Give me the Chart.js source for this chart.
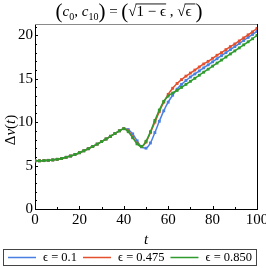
<!DOCTYPE html>
<html>
<head>
<meta charset="utf-8">
<script src="https://cdn.jsdelivr.net/npm/chart.js@4.4.0/dist/chart.umd.min.js"></script>
<style>
html, body { margin: 0; padding: 0; background: #fff; }
</style>
</head>
<body>
<canvas id="chart" width="266" height="268"></canvas>
<script>
// time samples (one marker every 2 units)
const tValues = [0, 2, 4, 6, 8, 10, 12, 14, 16, 18, 20, 22, 24, 26, 28, 30, 32, 34, 36, 38, 40,
    42, 44, 46, 48, 50, 52, 54, 56, 58, 60, 62, 64, 66, 68, 70, 72, 74, 76, 78, 80,
    82, 84, 86, 88, 90, 92, 94, 96, 98, 100];

// eps = 0.1
const blueValues = [5.55, 5.55, 5.57, 5.6, 5.65, 5.72, 5.82, 5.95, 6.1, 6.28, 6.48, 6.7, 6.94, 7.2, 7.47, 7.76, 8.06, 8.37, 8.69, 9.0, 9.25,
    9.15, 8.65, 7.85, 7.15, 7.0, 7.6, 8.8, 10.1, 11.3, 12.3, 13.1, 13.8, 14.35, 14.8, 15.2, 15.55, 15.9, 16.25, 16.6, 16.95,
    17.3, 17.65, 18.0, 18.35, 18.7, 19.05, 19.4, 19.75, 20.1, 20.45];

// eps = 0.475
const redValues = [5.55, 5.55, 5.57, 5.6, 5.65, 5.72, 5.82, 5.95, 6.1, 6.28, 6.48, 6.7, 6.94, 7.2, 7.47, 7.76, 8.06, 8.37, 8.69, 9.0, 9.25,
    9.0, 8.3, 7.55, 7.2, 7.7, 8.8, 10.0, 11.2, 12.3, 13.2, 13.9, 14.45, 14.9, 15.3, 15.65, 16.0, 16.35, 16.7, 17.0, 17.35,
    17.7, 18.0, 18.35, 18.7, 19.0, 19.35, 19.7, 20.05, 20.4, 20.8];

// eps = 0.850
const greenValues = [5.55, 5.55, 5.57, 5.6, 5.65, 5.72, 5.82, 5.95, 6.1, 6.28, 6.48, 6.7, 6.94, 7.2, 7.47, 7.76, 8.06, 8.37, 8.69, 9.0, 9.25,
    8.9, 8.2, 7.5, 7.2, 7.8, 8.9, 10.2, 11.4, 12.4, 13.0, 13.35, 13.65, 14.0, 14.35, 14.7, 15.05, 15.4, 15.75, 16.1, 16.45,
    16.8, 17.15, 17.5, 17.85, 18.2, 18.55, 18.9, 19.25, 19.6, 20.0];

const seriesLabels = ['\u03F5 = 0.1', '\u03F5 = 0.475', '\u03F5 = 0.850'];
const xTicks = [0, 20, 40, 60, 80, 100];
const yTicks = [0, 5, 10, 15, 20];

const SERIF = '"Liberation Serif", "DejaVu Serif", serif';
const colors = ['#4a7fe2', '#e4502e', '#2f9b2f'];

function toPoints(values) {
    return tValues.map(function(t, i) { return { x: t, y: values[i] }; });
}

function makeDataset(label, values, color, order) {
    return {
        label: label,
        data: toPoints(values),
        borderColor: color,
        backgroundColor: color,
        borderWidth: 1.5,
        pointStyle: 'rect',
        pointRadius: 2,
        pointBorderWidth: 0,
        pointBackgroundColor: color,
        cubicInterpolationMode: 'monotone',
        order: order
    };
}

// draw a row of text pieces with different fonts / offsets
function drawRuns(ctx, runs, cx, baseline) {
    var total = 0;
    runs.forEach(function(r) {
        ctx.font = r.f;
        r.w = ctx.measureText(r.t).width;
        total += r.w;
    });
    var x = cx - total / 2;
    ctx.textAlign = 'left';
    ctx.textBaseline = 'alphabetic';
    runs.forEach(function(r) {
        ctx.font = r.f;
        ctx.fillText(r.t, x, baseline + (r.dy || 0));
        if (r.over) {
            ctx.fillRect(x - 1, baseline - 12.5, r.w + 1, 0.9);
        }
        x += r.w;
    });
}

const decorations = {
    id: 'decorations',
    afterDraw: function(chart) {
        var ctx = chart.ctx;
        var area = chart.chartArea;
        ctx.save();

        // frame: top (gray) and right (black)
        ctx.lineWidth = 1;
        ctx.strokeStyle = '#8a8a8a';
        ctx.beginPath();
        ctx.moveTo(area.left, area.top + 0.5);
        ctx.lineTo(area.right, area.top + 0.5);
        ctx.stroke();
        ctx.strokeStyle = '#000';
        ctx.beginPath();
        ctx.moveTo(area.right + 0.5, area.top);
        ctx.lineTo(area.right + 0.5, area.bottom);
        ctx.stroke();

        // small inward ticks
        var xs = chart.scales.x, ys = chart.scales.y;
        ctx.strokeStyle = '#000';
        ctx.beginPath();
        for (var v = 1; v <= 21; v++) {
            var py = Math.round(ys.getPixelForValue(v)) + 0.5;
            ctx.moveTo(area.left, py);
            ctx.lineTo(area.left + (v % 5 === 0 ? 3 : 2), py);
        }
        for (var t = 10; t < 100; t += 10) {
            var px = Math.round(xs.getPixelForValue(t)) + 0.5;
            ctx.moveTo(px, area.bottom);
            ctx.lineTo(px, area.bottom - (t % 20 === 0 ? 3 : 2));
        }
        ctx.stroke();

        // title
        ctx.fillStyle = '#000';
        var F = '15px ' + SERIF, IT = 'italic 15px ' + SERIF, SUB = '10px ' + SERIF, BIG = '21px ' + SERIF;
        drawRuns(ctx, [
            { t: '(', f: BIG, dy: 2 }, { t: 'c', f: IT }, { t: '0', f: SUB, dy: 4 }, { t: ', ', f: F },
            { t: 'c', f: IT }, { t: '10', f: SUB, dy: 4 }, { t: ')', f: BIG, dy: 2 }, { t: ' = ', f: F },
            { t: '(', f: BIG, dy: 2 }, { t: '\u221A', f: F }, { t: '1 \u2212 \u03F5', f: F, over: true },
            { t: ' , ', f: F }, { t: '\u221A', f: F }, { t: '\u03F5 ', f: F, over: true }, { t: ')', f: BIG, dy: 2 }
        ], 129, 16);

        // axis titles
        drawRuns(ctx, [{ t: 't', f: IT }], (area.left + area.right) / 2, 244);
        ctx.save();
        ctx.translate(15, 130);
        ctx.rotate(-Math.PI / 2);
        drawRuns(ctx, [{ t: '\u0394', f: F }, { t: 'v', f: IT }, { t: '(', f: F }, { t: 't', f: IT }, { t: ')', f: F }], 0, 0);
        ctx.restore();

        // legend
        ctx.strokeStyle = '#444';
        ctx.lineWidth = 1;
        ctx.strokeRect(3.5, 249.5, 253, 16);
        ctx.font = '12.5px ' + SERIF;
        ctx.textBaseline = 'middle';
        ctx.textAlign = 'left';
        var lx = 8;
        chart.data.datasets.forEach(function(ds) {
            ctx.strokeStyle = ds.borderColor;
            ctx.lineWidth = 1.5;
            ctx.beginPath();
            ctx.moveTo(lx, 257.5);
            ctx.lineTo(lx + 28, 257.5);
            ctx.stroke();
            ctx.fillStyle = '#000';
            ctx.fillText(ds.label, lx + 35, 258);
            lx += 35 + ctx.measureText(ds.label).width + 6;
        });
        ctx.restore();
    }
};

new Chart(document.getElementById('chart'), {
    type: 'line',
    data: {
        datasets: [
            makeDataset(seriesLabels[0], blueValues, colors[0], 3),
            makeDataset(seriesLabels[1], redValues, colors[1], 2),
            makeDataset(seriesLabels[2], greenValues, colors[2], 1)
        ]
    },
    options: {
        responsive: false,
        animation: false,
        devicePixelRatio: 1,
        layout: { padding: { top: 24, right: 9, bottom: 39, left: 0 } },
        plugins: {
            legend: { display: false },
            title: { display: false },
            tooltip: { enabled: false }
        },
        scales: {
            x: {
                type: 'linear',
                min: 0,
                max: 100,
                afterBuildTicks: function(s) { s.ticks = xTicks.map(function(v) { return { value: v }; }); },
                ticks: { color: '#000', font: { family: SERIF, size: 15 }, padding: 2, maxRotation: 0 },
                grid: { drawOnChartArea: false, drawTicks: false },
                border: { color: '#000', width: 1 },
                afterFit: function(s) { s.height = 20; s.paddingLeft = 0; s.paddingRight = 0; }
            },
            y: {
                min: 0,
                max: 21.3,
                afterBuildTicks: function(s) { s.ticks = yTicks.map(function(v) { return { value: v }; }); },
                ticks: { color: '#000', font: { family: SERIF, size: 15 }, padding: 2 },
                grid: { drawOnChartArea: false, drawTicks: false },
                border: { color: '#000', width: 1 },
                afterFit: function(s) { s.width = 35; s.paddingTop = 0; s.paddingBottom = 0; }
            }
        }
    },
    plugins: [decorations]
});
</script>
</body>
</html>
